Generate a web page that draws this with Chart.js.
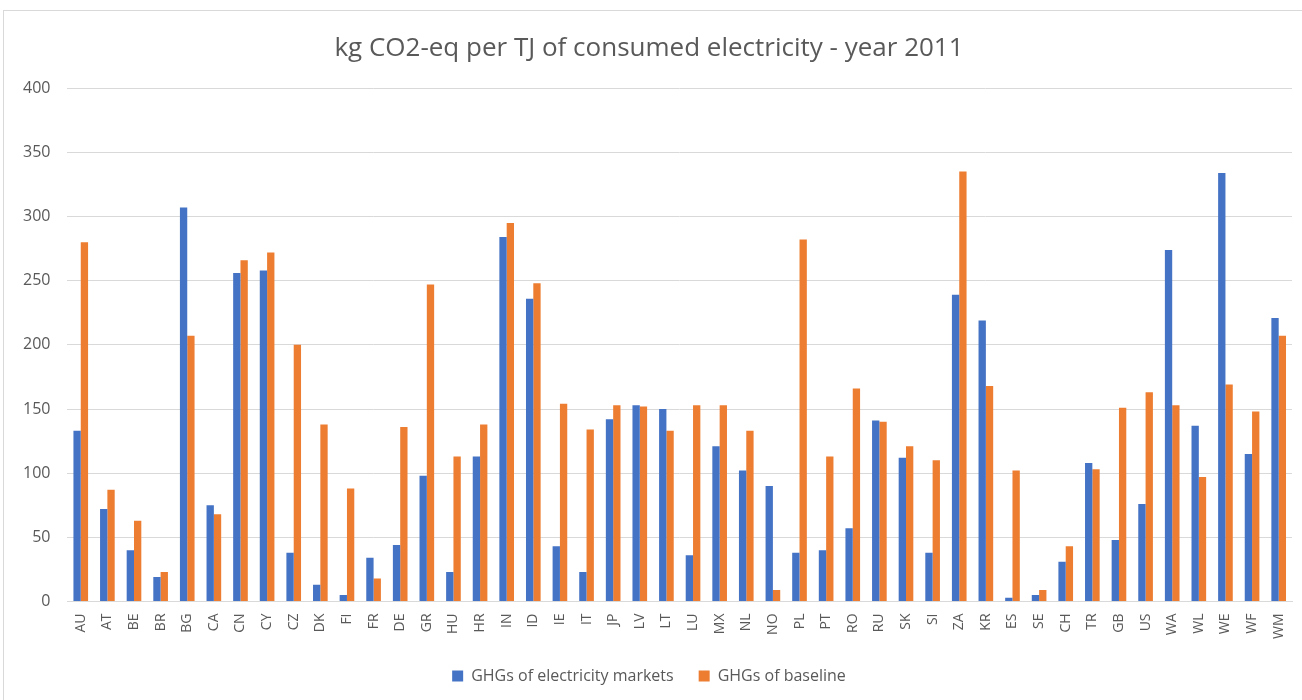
<!DOCTYPE html>
<html lang="en">
<head>
  <meta charset="UTF-8" />
  <title>kg CO2-eq per TJ of consumed electricity - year 2011</title>
  <script src="https://cdn.jsdelivr.net/npm/chart.js"></script>
  <style>
    body { margin: 0; background: #fff; overflow: hidden; }
    .frame { position: absolute; left: 3px; top: 10px; width: 1320px; height: 720px; border: 1px solid #d9d9d9; }
    .chart-container { position: absolute; left: 0; top: 0; width: 1302px; height: 700px; }
  </style>
</head>
<body>
  <div class="frame"></div>
  <div class="chart-container">
    <canvas id="ghgChart"></canvas>
  </div>

  <script>
    const countries = ['AU','AT','BE','BR','BG','CA','CN','CY','CZ','DK','FI','FR','DE','GR','HU','HR',
      'IN','ID','IE','IT','JP','LV','LT','LU','MX','NL','NO','PL','PT','RO','RU','SK','SI','ZA','KR',
      'ES','SE','CH','TR','GB','US','WA','WL','WE','WF','WM'];

    const marketGhg = [133,72,40,19,307,75,256,258,38,13,5,34,44,98,23,113,
      284,236,43,23,142,153,150,36,121,102,90,38,40,57,141,112,38,239,219,
      3,5,31,108,48,76,274,137,334,115,221];

    const baselineGhg = [280,87,63,23,207,68,266,272,200,138,88,18,136,247,113,138,
      295,248,154,134,153,152,133,153,153,133,9,282,113,166,140,121,110,335,168,
      102,9,43,103,151,163,153,97,169,148,207];

    const yTicks = { min: 0, max: 400, step: 50 };

    const gray = '#595959';
    const ctx = document.getElementById('ghgChart').getContext('2d');

    new Chart(ctx, {
      type: 'bar',
      data: {
        labels: countries,
        datasets: [
          {
            label: 'GHGs of electricity markets',
            data: marketGhg,
            backgroundColor: '#4472C4',
            categoryPercentage: 0.55,
            barPercentage: 1.0
          },
          {
            label: 'GHGs of baseline',
            data: baselineGhg,
            backgroundColor: '#ED7D31',
            categoryPercentage: 0.55,
            barPercentage: 1.0
          }
        ]
      },
      options: {
        responsive: true,
        maintainAspectRatio: false,
        animation: false,
        layout: {
          padding: { left: 6, right: 10, top: 33, bottom: 6 }
        },
        plugins: {
          title: {
            display: true,
            text: 'kg CO2-eq per TJ of consumed electricity - year 2011',
            color: gray,
            font: { family: 'Open Sans', size: 26, weight: 'normal' },
            padding: { top: 0, bottom: 24 }
          },
          legend: {
            position: 'bottom',
            labels: {
              color: gray,
              font: { family: 'Open Sans', size: 16 },
              boxWidth: 11,
              boxHeight: 11,
              padding: 25
            }
          },
          tooltip: { enabled: false }
        },
        scales: {
          x: {
            grid: { display: false },
            border: { display: true, color: '#d9d9d9' },
            ticks: {
              color: gray,
              font: { family: 'Open Sans', size: 14 },
              minRotation: 90,
              maxRotation: 90,
              autoSkip: false,
              padding: 4
            }
          },
          y: {
            min: yTicks.min,
            max: yTicks.max,
            grid: { color: '#d9d9d9', drawTicks: false },
            border: { display: false },
            ticks: {
              stepSize: yTicks.step,
              color: gray,
              font: { family: 'Open Sans', size: 16 },
              padding: 17
            }
          }
        }
      }
    });
  </script>
</body>
</html>
